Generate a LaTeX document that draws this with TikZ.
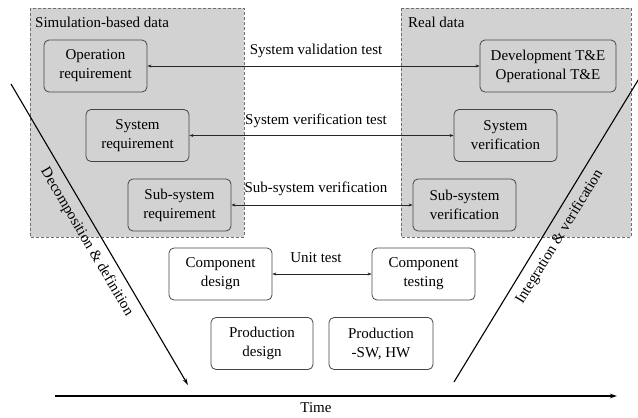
\documentclass[tikz,border=0pt]{standalone}
\usepackage{fontspec}
\setmainfont{Liberation Serif}
\usetikzlibrary{arrows.meta}
\definecolor{regiongray}{RGB}{210,210,210}
\definecolor{edgegray}{RGB}{70,70,70}
\definecolor{dashgray}{RGB}{110,110,110}
\begin{document}
\begin{tikzpicture}[x=1pt,y=-1pt,
  font=\fontsize{15}{19}\selectfont,
  region/.style={draw=dashgray, fill=regiongray, line width=0.7pt, dash pattern=on 3pt off 2pt},
  box/.style={draw=edgegray, rounded corners=5pt, line width=0.8pt, minimum width=103pt, minimum height=52pt, align=center, inner sep=0pt},
  gbox/.style={box, fill=regiongray},
  link/.style={{Stealth[length=4pt,width=3pt]}-{Stealth[length=4pt,width=3pt]}, line width=0.6pt, draw=black!85},
  phase/.style={line width=1.1pt, draw=black},
  linklabel/.style={inner sep=0pt},
]
\useasboundingbox (0,0) rectangle (638,418);
% regions
\draw[region] (30,8) rectangle (244,237);
\draw[region] (401,8) rectangle (631,237);
\node[anchor=west, inner sep=0pt] (simlab) at (35,22) {Simulation-based data};
\node[anchor=west, inner sep=0pt] (reallab) at (408,22) {Real data};
% boxes
\node[gbox] (opreq) at (95.5,66) {Operation\\requirement};
\node[gbox] (sysreq) at (137.5,135.5) {System\\requirement};
\node[gbox] (subreq) at (179.5,205) {Sub-system\\requirement};
\node[gbox, minimum width=136pt] (devte) at (548,66) {Development T\&E\\Operational T\&E};
\node[gbox] (sysver) at (505.5,135.5) {System\\verification};
\node[gbox] (subver) at (464.5,205) {Sub-system\\verification};
\node[box] (compdes) at (220.5,274) {Component\\design};
\node[box] (comptest) at (423.5,274) {Component\\testing};
\node[box, minimum width=102pt] (proddes) at (262,343.5) {Production\\design};
\node[box, minimum width=104pt] (prodsw) at (381,343.5) {Production\\-SW, HW};
% links
\draw[link] (opreq) -- (devte);
\draw[link] (sysreq) -- (sysver);
\draw[link] (subreq) -- (subver);
\draw[link] (compdes) -- (comptest);
\node[linklabel] (l1) at (316,51) {System validation test};
\node[linklabel] (l2) at (316,121) {System verification test};
\node[linklabel] (l3) at (316,189) {Sub-system verification};
\node[linklabel] (l4) at (316,258) {Unit test};
% phase lines
\coordinate (d0) at (11,84);
\coordinate (d1) at (188,385);
\coordinate (i0) at (454,382);
\coordinate (i1) at (640,77);
\draw[phase, -{Stealth[length=7pt,width=4pt]}] (d0) -- node[sloped, below=4pt, pos=0.5] (declab) {Decomposition \& definition} (d1);
\draw[phase] (i0) -- node[sloped, below=4pt, pos=0.5] (intlab) {Integration \& verification} (i1);
% time axis
\coordinate (t0) at (55,396);
\coordinate (t1) at (617,396);
\draw[line width=1.4pt, -{Stealth[length=7pt,width=4.5pt]}] (t0) -- (t1);
\node (timelab) at (316,408) {Time};
\end{tikzpicture}
\end{document}
